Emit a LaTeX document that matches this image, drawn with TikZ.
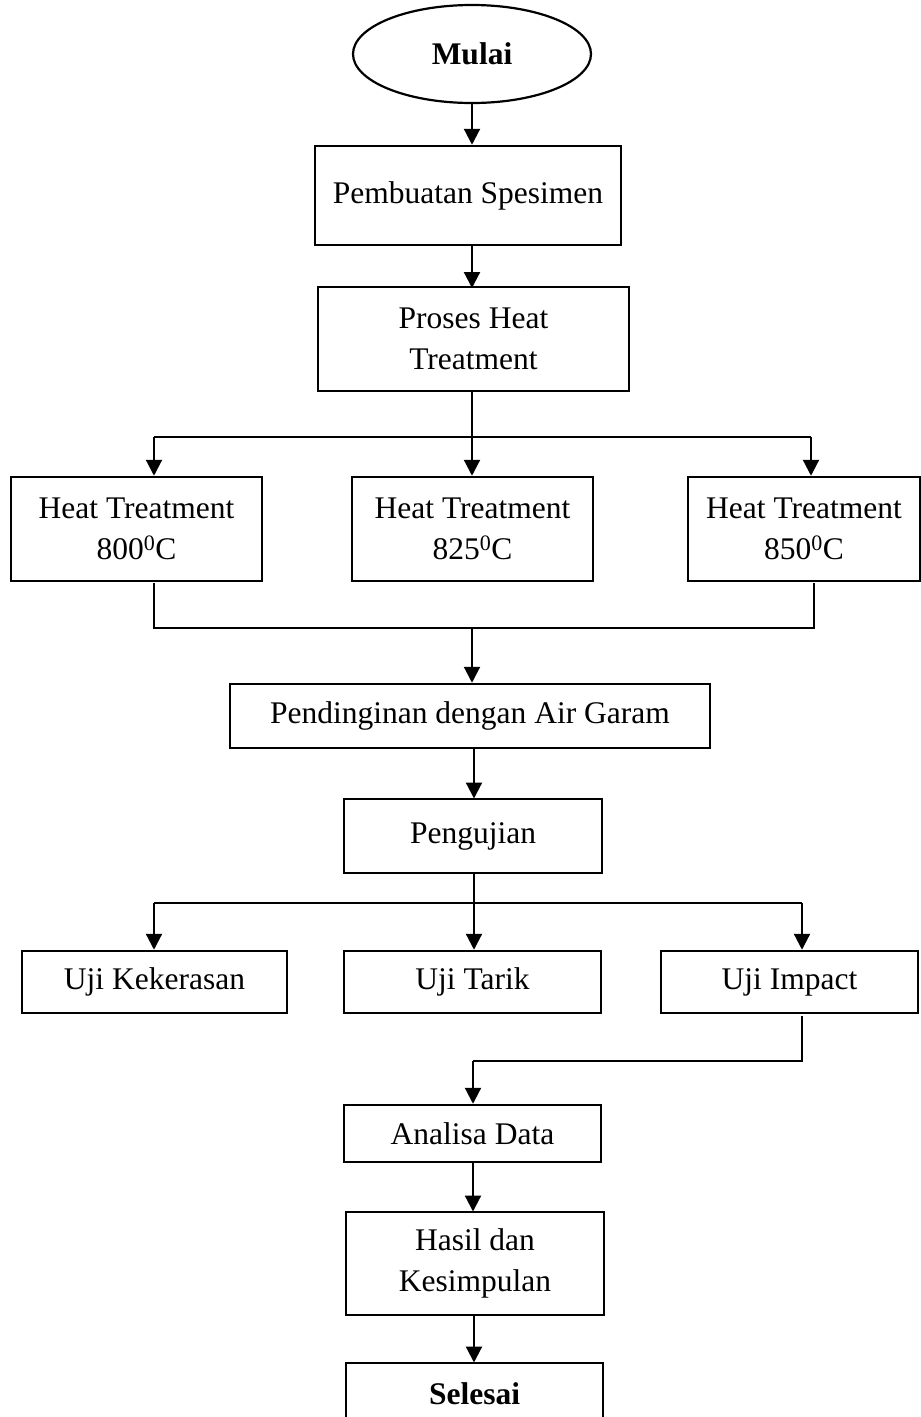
\documentclass[tikz,border=0pt]{standalone}
\usepackage{fontspec}
\setmainfont{Liberation Serif}
\usetikzlibrary{arrows.meta,shapes.geometric}
\begin{document}
\begin{tikzpicture}[x=1pt,y=-1pt,
  box/.style={draw,line width=2.5pt,rectangle,inner sep=0pt,align=center,
    font=\fontsize{31.5}{41}\selectfont},
  oval/.style={draw,line width=2.2pt,ellipse,inner sep=0pt,
    font=\fontsize{31.5}{41}\selectfont\bfseries},
  conn/.style={line width=2.2pt},
  thin conn/.style={line width=1.5pt},
  arr/.style={line width=2.2pt,-{Triangle[width=16pt,length=16pt]}}]
\useasboundingbox (0,0) rectangle (921,1417);
\clip (0,0) rectangle (921,1417);
\node[oval,minimum width=238pt,minimum height=98pt] (mulai) at (472,54) {Mulai};
\node[box,minimum width=306pt,minimum height=99pt] (buat) at (468,195.5) {Pembuatan Spesimen};
\node[box,minimum width=311pt,minimum height=104pt] (proses) at (473.5,339) {Proses Heat\\Treatment};
\node[box,minimum width=251pt,minimum height=104pt] (ht1) at (136.5,529) {Heat Treatment\\800\textsuperscript{0}C};
\node[box,minimum width=241pt,minimum height=104pt] (ht2) at (472.5,529) {Heat Treatment\\825\textsuperscript{0}C};
\node[box,minimum width=232pt,minimum height=104pt] (ht3) at (804,529) {Heat Treatment\\850\textsuperscript{0}C};
\node[box,minimum width=480pt,minimum height=64pt] (dingin) at (470,716) {Pendinginan dengan Air Garam};
\node[box,minimum width=258pt,minimum height=74pt] (uji) at (473,836) {Pengujian};
\node[box,minimum width=265pt,minimum height=62pt] (uk) at (154.5,982) {Uji Kekerasan};
\node[box,minimum width=257pt,minimum height=62pt] (ut) at (472.5,982) {Uji Tarik};
\node[box,minimum width=257pt,minimum height=62pt] (ui) at (789.5,982) {Uji Impact};
\node[box,minimum width=257pt,minimum height=57pt] (ana) at (472.5,1133.5) {Analisa Data};
\node[box,minimum width=258pt,minimum height=103pt] (hasil) at (475,1263.5) {Hasil dan\\Kesimpulan};
\node[box,minimum width=257pt,minimum height=62pt,font=\fontsize{31.5}{41}\selectfont\bfseries] (selesai) at (474.5,1394) {Selesai};
% junction coordinates
\coordinate (b1) at (472,437);
\coordinate (b1l) at (154,437);
\coordinate (b1r) at (811,437);
\coordinate (m1l) at (154,628);
\coordinate (m1r) at (814,628);
\coordinate (m1c) at (472,628);
\coordinate (b2) at (474,903);
\coordinate (b2l) at (154,903);
\coordinate (b2r) at (802,903);
\coordinate (m2r) at (802,1061);
\coordinate (m2l) at (473,1061);
% connectors
\draw[arr] (mulai.south) -- (mulai.south |- buat.north);
\draw[arr] (472,244.5) -- (472,288);
\draw[conn] (472,391) -- (b1);
\draw[conn] (b1l) -- (b1r);
\draw[arr] (b1l) -- (b1l |- ht1.north);
\draw[arr] (b1) -- (b1 |- ht2.north);
\draw[arr] (b1r) -- (b1r |- ht3.north);
\draw[thin conn] (154,583) -- (m1l) -- (m1r) -- (814,583);
\draw[arr] (m1c) -- (m1c |- dingin.north);
\draw[arr] (474,748) -- (474,798.5);
\draw[conn] (474,873) -- (b2);
\draw[conn] (b2l) -- (b2r);
\draw[arr] (b2l) -- (b2l |- uk.north);
\draw[arr] (b2) -- (b2 |- ut.north);
\draw[arr] (b2r) -- (b2r |- ui.north);
\draw[conn] (802,1016) -- (m2r) -- (m2l);
\draw[arr] (m2l) -- (m2l |- ana.north);
\draw[arr] (473,1162) -- (473,1211.5);
\draw[arr] (474,1315) -- (474,1362.5);
\end{tikzpicture}
\end{document}
